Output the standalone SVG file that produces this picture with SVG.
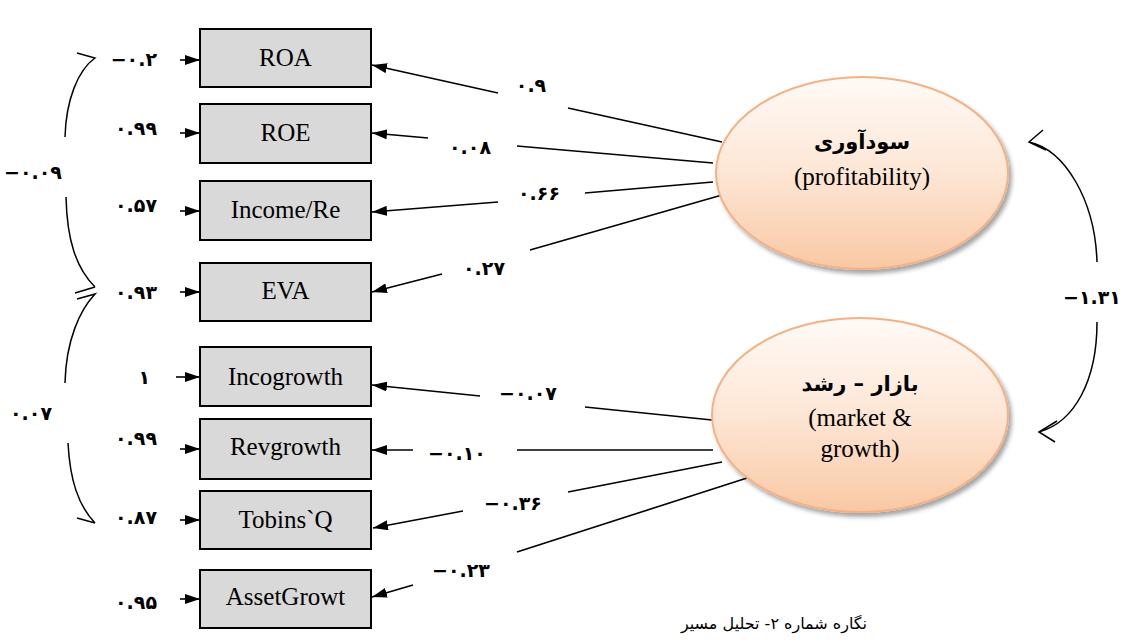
<svg xmlns="http://www.w3.org/2000/svg" width="1123" height="644" viewBox="0 0 1123 644">
<style>
.box{fill:#d9d9d9;stroke:#000;stroke-width:2}
.bt{font-family:"Liberation Serif",serif;font-size:25px;fill:#000;text-anchor:middle}
.num{font-family:"DejaVu Sans",sans-serif;font-weight:bold;font-size:19px;fill:#000}
.ln{stroke:#000;stroke-width:1.6;fill:none}
.cv{stroke:#000;stroke-width:1.5;fill:none}
.ell{fill:url(#eg);stroke:#f4b183;stroke-width:2}
.fa{font-family:"DejaVu Sans",sans-serif;font-weight:bold;font-size:21px;fill:#000;text-anchor:middle}
.en{font-family:"Liberation Serif",serif;font-size:25px;fill:#000;text-anchor:middle}
.cap{font-family:"DejaVu Sans",sans-serif;font-size:16px;fill:#000}
</style>
<defs>
<marker id="ah" markerWidth="15" markerHeight="10" refX="15" refY="5" orient="auto" markerUnits="userSpaceOnUse"><path d="M0,0 L15,5 L0,10 z" fill="#000"/></marker>
<linearGradient id="eg" x1="0" y1="0" x2="0" y2="1"><stop offset="0" stop-color="#fffaf6"/><stop offset="0.5" stop-color="#fde6d5"/><stop offset="1" stop-color="#f9c8a4"/></linearGradient>
<filter id="sh" x="-10%" y="-10%" width="130%" height="130%"><feGaussianBlur in="SourceAlpha" stdDeviation="2"/><feOffset dx="3" dy="4" result="b"/><feFlood flood-color="#000" flood-opacity="0.35"/><feComposite in2="b" operator="in"/><feMerge><feMergeNode/><feMergeNode in="SourceGraphic"/></feMerge></filter>
</defs>
<rect width="1123" height="644" fill="#fff"/>

<g id="connectors">
<line class="ln" x1="722" y1="142" x2="568" y2="108"/><line class="ln" x1="498" y1="93" x2="372" y2="65" marker-end="url(#ah)"/>
<line class="ln" x1="713" y1="163" x2="517" y2="146"/><line class="ln" x1="428" y1="138" x2="372" y2="133" marker-end="url(#ah)"/>
<line class="ln" x1="713" y1="182" x2="585" y2="193"/><line class="ln" x1="498" y1="202" x2="372" y2="212" marker-end="url(#ah)"/>
<line class="ln" x1="722" y1="195" x2="530" y2="250"/><line class="ln" x1="442" y1="274" x2="372" y2="292" marker-end="url(#ah)"/>
<line class="ln" x1="712" y1="420" x2="585" y2="407"/><line class="ln" x1="480" y1="396" x2="372" y2="385" marker-end="url(#ah)"/>
<line class="ln" x1="713" y1="450" x2="517" y2="450"/><line class="ln" x1="413" y1="450" x2="372" y2="450" marker-end="url(#ah)"/>
<line class="ln" x1="722" y1="462" x2="568" y2="492"/><line class="ln" x1="463" y1="511" x2="373" y2="528" marker-end="url(#ah)"/>
<line class="ln" x1="747" y1="478" x2="517" y2="552"/><line class="ln" x1="413" y1="585" x2="372" y2="597" marker-end="url(#ah)"/>
<line class="ln" x1="180" y1="60" x2="200" y2="60" marker-end="url(#ah)"/>
<line class="ln" x1="180" y1="133" x2="200" y2="133" marker-end="url(#ah)"/>
<line class="ln" x1="180" y1="211" x2="200" y2="211" marker-end="url(#ah)"/>
<line class="ln" x1="180" y1="292" x2="200" y2="292" marker-end="url(#ah)"/>
<line class="ln" x1="176" y1="377" x2="200" y2="377" marker-end="url(#ah)"/>
<line class="ln" x1="180" y1="449" x2="200" y2="449" marker-end="url(#ah)"/>
<line class="ln" x1="180" y1="520" x2="200" y2="520" marker-end="url(#ah)"/>
<line class="ln" x1="180" y1="599" x2="200" y2="599" marker-end="url(#ah)"/>
<path class="cv" d="M77,53 L95,58 C78,70 66,100 65,137"/>
<path class="cv" d="M66,197 C67,240 76,268 95,287 M75,293 L95,287"/>
<path class="cv" d="M77,299 L95,294 C80,310 66,340 65,383"/>
<path class="cv" d="M68,443 C70,480 78,505 95,523 M77,518 L95,523"/>
<path class="cv" d="M1043,130 L1029,142 L1046,150 M1029,142 C1065,150 1095,200 1097,262"/>
<path class="cv" d="M1097,322 C1097,380 1075,422 1039,432 M1057,421 L1039,432 L1055,442"/>
</g>

<g id="labels">
<text class="num" x="157" y="66" text-anchor="end">−۰.۲</text>
<text class="num" x="157" y="135" text-anchor="end">۰.۹۹</text>
<text class="num" x="157" y="212" text-anchor="end">۰.۵۷</text>
<text class="num" x="157" y="299" text-anchor="end">۰.۹۳</text>
<text class="num" x="150" y="384" text-anchor="end">۱</text>
<text class="num" x="157" y="445" text-anchor="end">۰.۹۹</text>
<text class="num" x="157" y="524" text-anchor="end">۰.۸۷</text>
<text class="num" x="157" y="609" text-anchor="end">۰.۹۵</text>
<text class="num" x="531" y="92" text-anchor="middle">۰.۹</text>
<text class="num" x="470" y="154" text-anchor="middle">۰.۰۸</text>
<text class="num" x="539" y="200" text-anchor="middle">۰.۶۶</text>
<text class="num" x="484" y="275" text-anchor="middle">۰.۲۷</text>
<text class="num" x="528" y="400" text-anchor="middle">−۰.۰۷</text>
<text class="num" x="457" y="460" text-anchor="middle">−۰.۱۰</text>
<text class="num" x="513" y="510" text-anchor="middle">−۰.۳۶</text>
<text class="num" x="461" y="577" text-anchor="middle">−۰.۲۳</text>
<text class="num" x="33" y="179" text-anchor="middle">−۰.۰۹</text>
<text class="num" x="31" y="420" text-anchor="middle">۰.۰۷</text>
<text class="num" x="1092" y="304" text-anchor="middle">−۱.۳۱</text>
</g>

<g id="n-roa"><rect class="box" x="200" y="29" width="171" height="58"/><text class="bt" x="285.5" y="66">ROA</text></g>
<g id="n-roe"><rect class="box" x="200" y="104" width="171" height="59"/><text class="bt" x="285.5" y="141">ROE</text></g>
<g id="n-income"><rect class="box" x="200" y="181" width="171" height="59"/><text class="bt" x="285.5" y="218">Income/Re</text></g>
<g id="n-eva"><rect class="box" x="200" y="263" width="171" height="58"/><text class="bt" x="285.5" y="299">EVA</text></g>
<g id="n-incogrowth"><rect class="box" x="200" y="347" width="171" height="59"/><text class="bt" x="285.5" y="385">Incogrowth</text></g>
<g id="n-revgrowth"><rect class="box" x="200" y="419" width="171" height="60"/><text class="bt" x="285.5" y="455">Revgrowth</text></g>
<g id="n-tobins"><rect class="box" x="200" y="491" width="171" height="58"/><text class="bt" x="285.5" y="528">Tobins`Q</text></g>
<g id="n-asset"><rect class="box" x="200" y="570" width="171" height="58"/><text class="bt" x="285.5" y="605">AssetGrowt</text></g>

<g id="n-profit"><ellipse class="ell" cx="862" cy="173" rx="146" ry="96" filter="url(#sh)"/><text class="fa" x="862" y="149">سودآوری</text><text class="en" x="862" y="185">(profitability)</text></g>
<g id="n-market"><ellipse class="ell" cx="860" cy="415" rx="148" ry="97" filter="url(#sh)"/><text class="fa" x="860" y="391">بازار – رشد</text><text class="en" x="860" y="426">(market &amp;</text><text class="en" x="860" y="457">growth)</text></g>

<text class="cap" x="774" y="629" text-anchor="middle" direction="rtl">نگاره شماره ۲-  تحلیل مسیر</text>
</svg>
